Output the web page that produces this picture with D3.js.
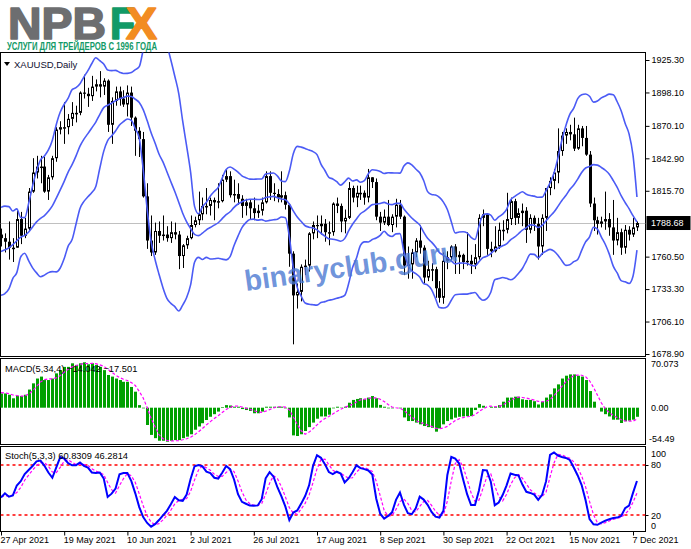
<!DOCTYPE html>
<html><head><meta charset="utf-8">
<script src="https://cdn.jsdelivr.net/npm/d3@7"></script>
<style>body{margin:0;background:#fff}svg{display:block}text{font-family:"Liberation Sans",Arial,sans-serif}</style>
</head><body><svg id="c" width="691" height="549"></svg>
<script>
// ---------- DATA ----------
const dates = ["04-27","04-28","04-29","04-30","05-03","05-04","05-05","05-06","05-07","05-10",
"05-11","05-12","05-13","05-14","05-17","05-18","05-19","05-20","05-21","05-24",
"05-25","05-26","05-27","05-28","05-31","06-01","06-02","06-03","06-04","06-07",
"06-08","06-09","06-10","06-11","06-14","06-15","06-16","06-17","06-18","06-21",
"06-22","06-23","06-24","06-25","06-28","06-29","06-30","07-01","07-02","07-05",
"07-06","07-07","07-08","07-09","07-12","07-13","07-14","07-15","07-16","07-19",
"07-20","07-21","07-22","07-23","07-26","07-27","07-28","07-29","07-30","08-02",
"08-03","08-04","08-05","08-06","08-09","08-10","08-11","08-12","08-13","08-16",
"08-17","08-18","08-19","08-20","08-23","08-24","08-25","08-26","08-27","08-30",
"08-31","09-01","09-02","09-03","09-06","09-07","09-08","09-09","09-10","09-13",
"09-14","09-15","09-16","09-17","09-20","09-21","09-22","09-23","09-24","09-27",
"09-28","09-29","09-30","10-01","10-04","10-05","10-06","10-07","10-08","10-11",
"10-12","10-13","10-14","10-15","10-18","10-19","10-20","10-21","10-22","10-25",
"10-26","10-27","10-28","10-29","11-01","11-02","11-03","11-04","11-05","11-08",
"11-09","11-10","11-11","11-12","11-15","11-16","11-17","11-18","11-19","11-22",
"11-23","11-24","11-25","11-26","11-29","11-30","12-01","12-02","12-03","12-06",
"12-07","12-08"];
const open = [1779,1776,1773,1768,1768,1792,1778,1784,1815,1831,
1836,1836,1815,1827,1843,1867,1869,1869,1876,1881,
1881,1898,1897,1895,1903,1905,1903,1908,1871,1891,
1899,1893,1888,1898,1877,1866,1859,1811,1774,1764,
1782,1778,1779,1776,1781,1779,1761,1770,1776,1787,
1791,1796,1803,1803,1808,1806,1807,1825,1828,1812,
1813,1809,1803,1806,1801,1797,1799,1806,1828,1814,
1813,1810,1812,1804,1763,1728,1731,1752,1753,1780,
1787,1786,1788,1781,1781,1805,1803,1790,1793,1818,
1810,1814,1814,1810,1827,1823,1794,1789,1794,1787,
1794,1804,1794,1753,1754,1764,1774,1768,1743,1750,
1750,1734,1726,1757,1760,1769,1760,1762,1756,1757,
1754,1760,1793,1796,1767,1765,1769,1783,1783,1792,
1807,1793,1797,1799,1783,1793,1788,1769,1793,1818,
1824,1831,1849,1862,1865,1863,1851,1868,1860,1846,
1805,1791,1788,1790,1792,1785,1774,1781,1768,1783,
1779,1785];
const high = [1784,1780,1790,1776,1799,1798,1793,1818,1843,1845,
1845,1844,1829,1845,1869,1874,1890,1880,1890,1887,
1899,1913,1902,1912,1909,1916,1910,1909,1894,1903,
1903,1900,1904,1903,1878,1869,1865,1822,1795,1789,
1790,1795,1786,1790,1789,1782,1771,1778,1795,1794,
1815,1810,1818,1810,1810,1822,1829,1834,1832,1825,
1822,1812,1809,1808,1810,1804,1810,1832,1832,1822,
1817,1832,1815,1805,1765,1738,1754,1758,1781,1790,
1795,1795,1792,1790,1806,1810,1805,1800,1823,1820,
1820,1820,1816,1834,1827,1826,1798,1800,1808,1796,
1809,1808,1795,1769,1767,1776,1787,1770,1757,1755,
1752,1740,1764,1765,1770,1771,1765,1763,1781,1762,
1771,1796,1800,1797,1773,1786,1789,1791,1814,1810,
1809,1801,1805,1802,1796,1795,1793,1796,1818,1827,
1834,1868,1865,1868,1871,1877,1871,1870,1870,1849,
1810,1794,1794,1815,1797,1808,1793,1784,1787,1786,
1793,1790];
const low = [1769,1764,1758,1756,1768,1771,1776,1782,1814,1826,
1822,1814,1808,1825,1840,1863,1855,1863,1870,1873,
1879,1893,1886,1891,1899,1894,1896,1865,1855,1887,
1887,1886,1878,1870,1845,1844,1810,1767,1761,1762,
1772,1774,1773,1772,1775,1750,1751,1767,1775,1785,
1787,1791,1796,1795,1791,1801,1806,1823,1810,1806,
1804,1793,1795,1792,1791,1793,1795,1805,1808,1807,
1806,1806,1800,1752,1687,1717,1723,1745,1748,1775,
1776,1779,1773,1770,1778,1797,1781,1780,1792,1806,
1802,1808,1804,1806,1818,1791,1782,1787,1786,1781,
1785,1792,1745,1742,1742,1760,1763,1738,1740,1740,
1726,1722,1721,1750,1757,1746,1746,1750,1753,1746,
1750,1758,1786,1762,1760,1764,1767,1774,1780,1787,
1787,1788,1786,1772,1780,1782,1758,1762,1782,1812,
1817,1822,1845,1855,1858,1849,1850,1853,1845,1802,
1782,1779,1785,1783,1778,1762,1770,1762,1763,1774,
1777,1782];
const close = [1776,1773,1768,1768,1792,1778,1784,1815,1831,1836,
1836,1815,1827,1843,1867,1869,1869,1876,1881,1881,
1898,1897,1895,1903,1905,1903,1908,1871,1891,1899,
1893,1888,1898,1877,1866,1859,1811,1774,1764,1782,
1778,1779,1776,1781,1779,1761,1770,1776,1787,1791,
1796,1803,1803,1808,1806,1807,1825,1828,1812,1813,
1809,1803,1806,1801,1797,1799,1806,1828,1814,1813,
1810,1812,1804,1763,1728,1731,1752,1753,1780,1787,
1786,1788,1781,1781,1805,1803,1790,1793,1818,1810,
1814,1814,1810,1827,1823,1794,1789,1794,1787,1794,
1804,1794,1753,1754,1764,1774,1768,1743,1750,1750,
1734,1726,1757,1760,1769,1760,1762,1756,1757,1754,
1760,1793,1796,1767,1765,1769,1783,1783,1792,1807,
1793,1797,1799,1783,1793,1788,1769,1793,1818,1824,
1831,1849,1862,1865,1863,1851,1868,1860,1846,1805,
1791,1788,1790,1792,1785,1774,1781,1768,1783,1779,
1785,1788.68];
const bbUpper = [1801.8,1802.8,1802.4,1798.7,1800.5,1793.3,1793.2,1805.1,1819.8,1832.3,
1841.6,1844.9,1849.9,1858.1,1871.3,1881.7,1888.2,1893.3,1900.5,1902.1,
1905.4,1911.2,1916.4,1922.4,1927.2,1924.7,1922.0,1916.9,1916.4,1916.6,
1915.0,1914.0,1914.1,1914.8,1917.2,1919.7,1933.9,1948.7,1955.7,1953.5,
1947.2,1945.3,1937.8,1925.3,1911.7,1897.2,1874.0,1853.1,1831.3,1802.6,
1796.4,1802.3,1806.1,1811.3,1815.1,1818.5,1826.3,1833.6,1835.6,1833.8,
1831.4,1828.2,1826.7,1825.5,1825.4,1825.6,1825.6,1829.7,1830.3,1830.6,
1828.0,1823.9,1823.4,1832.2,1846.8,1852.9,1852.3,1851.2,1849.8,1848.5,
1846.0,1838.1,1832.7,1826.9,1825.6,1823.3,1820.4,1823.1,1826.3,1823.9,
1824.8,1822.9,1824.2,1830.0,1833.3,1832.9,1831.9,1830.2,1830.8,1830.7,
1830.6,1830.5,1836.4,1839.1,1837.4,1833.9,1830.8,1824.3,1815.0,1812.6,
1812.1,1810.1,1806.2,1800.0,1789.8,1780.3,1781.2,1781.3,1780.4,1776.7,
1774.9,1786.0,1795.3,1796.3,1795.3,1791.0,1793.8,1796.1,1800.1,1808.0,
1810.8,1813.1,1814.9,1812.8,1811.7,1811.2,1810.3,1810.4,1815.9,1822.3,
1830.6,1843.4,1858.0,1870.2,1879.7,1884.9,1892.9,1896.2,1896.8,1894.9,
1890.0,1891.0,1893.6,1895.2,1896.7,1896.1,1890.3,1882.8,1872.3,1863.4,
1845.5,1810.5];
const bbMiddle = [1764.9,1766.2,1767.9,1770.5,1773.8,1776.8,1778.3,1781.1,1785.4,1789.6,
1792.6,1794.9,1798.5,1803.0,1809.5,1816.4,1823.6,1831.3,1837.6,1845.0,
1853.1,1859.0,1863.6,1868.4,1873.3,1879.6,1885.4,1887.4,1889.1,1891.2,
1892.9,1893.8,1895.0,1894.7,1892.4,1889.7,1883.7,1874.5,1864.4,1855.8,
1846.5,1839.9,1831.7,1823.3,1815.1,1806.1,1796.9,1789.7,1784.1,1779.2,
1778.1,1780.2,1783.0,1784.9,1786.9,1788.9,1792.4,1795.7,1798.1,1801.8,
1804.6,1806.5,1807.9,1808.6,1808.6,1808.4,1808.6,1810.0,1810.6,1811.0,
1809.9,1808.8,1808.2,1804.6,1798.9,1793.7,1789.9,1786.4,1785.2,1784.4,
1782.9,1780.1,1777.7,1775.4,1775.1,1774.4,1773.4,1775.6,1782.0,1787.6,
1792.1,1796.4,1798.6,1801.4,1804.1,1804.5,1805.1,1806.0,1804.7,1804.1,
1805.1,1805.1,1800.5,1796.5,1792.9,1790.1,1787.1,1781.1,1775.9,1772.7,
1768.8,1763.9,1761.8,1759.4,1756.9,1754.4,1755.1,1755.2,1754.7,1753.3,
1752.7,1756.3,1759.6,1760.8,1763.0,1766.1,1767.9,1769.6,1771.2,1774.6,
1776.8,1779.7,1782.7,1784.8,1787.1,1786.8,1784.9,1786.7,1790.5,1794.4,
1797.9,1802.6,1807.6,1811.7,1816.7,1820.6,1825.5,1831.0,1834.8,1836.0,
1837.6,1837.2,1835.2,1832.9,1829.6,1824.3,1818.5,1811.6,1805.9,1800.7,
1794.8,1789.5];
const bbLower = [1728.1,1729.6,1733.5,1742.3,1747.1,1760.3,1763.3,1757.1,1751.1,1746.9,
1743.7,1745.0,1747.1,1747.9,1747.7,1751.0,1758.9,1769.3,1774.8,1787.9,
1800.9,1806.8,1810.7,1814.3,1819.3,1834.4,1848.7,1857.8,1861.7,1865.8,
1870.8,1873.6,1875.9,1874.6,1867.7,1859.8,1833.6,1800.3,1773.2,1758.1,
1745.8,1734.5,1725.6,1721.3,1718.6,1714.9,1719.9,1726.3,1736.8,1755.8,
1759.9,1758.1,1759.9,1758.5,1758.7,1759.2,1758.4,1757.8,1760.5,1769.8,
1777.7,1784.8,1789.0,1791.6,1791.9,1791.1,1791.5,1790.3,1790.9,1791.4,
1791.9,1793.7,1793.0,1777.1,1750.9,1734.6,1727.4,1721.6,1720.6,1720.2,
1719.9,1722.0,1722.8,1724.0,1724.5,1725.6,1726.5,1728.0,1737.7,1751.3,
1759.3,1770.0,1772.9,1772.8,1774.8,1776.1,1778.3,1781.8,1778.6,1777.4,
1779.6,1779.8,1764.6,1753.9,1748.5,1746.2,1743.4,1737.9,1736.7,1732.9,
1725.4,1717.8,1717.4,1718.7,1723.9,1728.6,1729.0,1729.1,1729.1,1729.9,
1730.5,1726.6,1723.9,1725.3,1730.7,1741.1,1742.1,1743.0,1742.3,1741.1,
1742.8,1746.4,1750.6,1756.8,1762.6,1762.4,1759.5,1763.1,1765.1,1766.6,
1765.1,1761.7,1757.1,1753.2,1753.7,1756.3,1758.1,1765.8,1772.8,1777.1,
1785.1,1783.5,1776.9,1770.7,1762.6,1752.5,1746.8,1740.4,1739.4,1738.0,
1744.1,1766.0];
const macdMain = [22,22,20,14.5,18.5,18,20,28,37.6,45,
48,42.7,42.7,45,53,58,63,63,68.5,66,
68.5,70.073,67,68.5,66,63,58,50.5,48,45,
42.7,40,40,32,24.7,4,-1,-26.7,-42,-47,
-51,-51,-52.5,-51,-50,-50,-47,-44.7,-41,-34,
-29,-24,-19,-14,-10,-6,1,4,3.4,1.5,
1.5,-2.1,-3.6,-5,-8.6,-8.6,-6,1.5,1.5,1.5,
1.5,1.5,-1,-15,-42.7,-43.7,-41,-36,-30,-23,
-17,-13.5,-13.5,-10.8,-1,1.5,0.5,1.5,7.7,12,
13.5,14.6,13,15.6,18,14.6,4.3,1.5,-1,-1,
0,-1,-15,-20.6,-20.6,-23,-25.7,-28.3,-30,-31,
-37,-32,-25.7,-20.6,-18,-15.4,-14,-13.5,-13,-13,
-3.6,5.6,3,0,1.5,1.5,4,9.3,15.6,15.6,
17,17,13,12,12,10,5,9.3,15.6,20.6,
29.8,36,45,49.4,51.4,51.4,49.4,48,42.7,25.7,
9.3,0,-6,-10,-13.5,-18.5,-18.5,-23.6,-21,-20,
-18.5,-14.042];
const macdSignal = [23.3,22.8,21.8,19.6,18.8,17.8,17.8,21.1,25.9,32.7,
39.7,43.3,44.6,44.6,45.9,49.7,54.8,59.3,63.1,65.1,
66.5,68.3,67.9,68.5,67.9,66.1,63.9,59.4,54.9,50.4,
46.6,43.9,41.9,38.7,34.2,25.2,14.9,0.3,-16.4,-29.2,
-41.7,-47.8,-50.4,-51.4,-51.1,-50.9,-49.5,-47.9,-45.7,-41.7,
-37.2,-32,-26.5,-21.5,-16.8,-12.3,-7.3,-2.8,0.6,2.5,
2.6,1.1,-0.7,-2.3,-4.8,-6.5,-7.1,-5.4,-2.9,-0.4,
1.5,1.5,0.9,-3.3,-14.3,-25.6,-35.6,-40.9,-37.7,-32.5,
-26.5,-20.9,-16.8,-13.7,-9.7,-6,-2.5,0.6,2.8,5.4,
8.7,12,13.3,14.2,15.3,15.3,13.1,9.6,4.9,1,
-0.1,-0.8,-4.3,-9.2,-14.3,-19.8,-22.5,-24.4,-26.8,-28.8,
-31.6,-32.5,-31.4,-28.8,-24.1,-19.9,-17,-15.2,-14,-13.4,
-10.8,-6,-2,1.3,2.5,1.5,1.8,4.1,7.6,11.1,
14.4,16.3,15.7,14.8,13.5,11.8,9.8,9.1,10,12.6,
18.8,25.5,32.9,40,45.5,49.3,50.4,50.1,47.9,41.5,
31.4,19.4,7.3,-1.7,-7.4,-12,-15.1,-18.5,-20.4,-20.8,
-20.8,-17.501];
const stochMain = [41,46,42,43.5,55.4,60.5,69.2,74,78.8,84.4,
85.3,79,71,64.7,77,89.4,87.6,82.2,79.6,79.8,
83,79,76.8,71,70.4,71,64,41.6,45.6,51.7,
68.8,70.3,70.3,60.6,46,29.5,17.6,10.5,6,9,
14,19.6,25,33,41.6,37.6,37,44.6,63.3,78.5,
80,78.4,72,70.4,64.7,63.7,70.6,78.8,75,62.6,
45,35.8,33.5,31.3,31,31.5,39,64,71.4,66,
53,42.4,30,14,23,25.4,33.7,42.8,55.6,79,
91.7,88.6,81,71.5,69,72,69.8,59,63.8,71.3,
79.6,76.2,75,73.4,68.5,39.5,21.6,15.7,18.9,23.2,
38.2,47,32.4,22.2,21,28,42,38.5,32.2,23.7,
18,17,25,68,89.6,87.7,81.7,62.7,45,32,
32,49.4,74,73.6,60,31.8,35,43.9,55.6,69.8,
68.2,67.5,56.5,47.8,46.5,44.5,38.2,44.2,60.6,92,
95,91.3,89.6,88.4,86,77,67.4,56,37.6,15,
8.8,8.3,10.8,13.2,15,16.3,16.9,18.8,28.1,31.2,
46.6,60.8309];
const stochSignal = [42,43,43,43.8,47,53.1,61.7,67.9,74,79.1,
82.8,82.9,78.4,71.6,70.9,77,84.7,86.4,83.1,80.5,
80.8,80.6,79.6,75.6,72.7,70.8,68.5,58.9,50.4,46.3,
55.4,63.6,69.8,67.1,59,45.4,31,19.2,11.4,8.5,
9.7,14.2,19.5,25.9,33.2,37.4,38.7,39.7,48.3,62.1,
73.9,79,76.8,73.6,69,66.3,66.3,71,74.8,72.1,
60.9,47.8,38.1,33.5,31.9,31.3,33.8,44.8,58.1,67.1,
63.5,53.8,41.8,28.8,22.3,20.8,27.4,34,44,59.1,
75.4,86.4,87.1,80.4,73.8,70.8,70.3,66.9,64.2,64.7,
71.6,75.7,76.9,74.9,72.3,60.5,43.2,25.6,18.7,19.3,
26.8,36.1,39.2,33.9,25.2,23.7,30.3,36.2,37.6,31.5,
24.6,19.6,20,36.7,60.9,81.8,86.3,77.4,63.1,46.6,
36.3,37.8,51.8,65.7,69.2,55.1,42.3,36.9,44.8,56.4,
64.5,68.5,64.1,57.3,50.3,46.3,43.1,42.3,47.7,65.6,
82.5,92.8,92,89.8,88,83.8,76.8,66.8,53.7,36.2,
20.5,10.7,9.3,10.8,13,14.8,16.1,17.3,21.3,26,
35.3,46.2814];
const priceTicks = [1925.30,1898.10,1870.10,1842.90,1815.70,1760.50,1733.30,1706.10,1678.90];
const lastPrice = 1788.68;
const dateTickDates = ["04-27","05-19","06-10","07-02","07-26","08-17","09-08","09-30","10-22","11-15","12-07"];
const dateTickLabels = ["27 Apr 2021","19 May 2021","10 Jun 2021","2 Jul 2021","26 Jul 2021","17 Aug 2021","8 Sep 2021","30 Sep 2021","22 Oct 2021","15 Nov 2021","7 Dec 2021"];
const macdTicks = [70.073, 0, -54.49];
const macdTickLabels = ["70.073","0.00","-54.49"];
const stochLevels = [80, 20];
const stochTicks = [100, 80, 20, 0];

// ---------- DRAW ----------
const svg = d3.select("#c");
const L = 0.5, R = 645.5;
const P = {main:[52.5,356.5], macd:[358.5,444.5], stoch:[446.5,531.5]};
const x = d3.scalePoint().domain(dates).range([1, 636.95]);
const yP = d3.scaleLinear().domain([1678.9, 1925.3]).range([354, 60]);
const yM = d3.scaleLinear().domain([-54.49, 70.073]).range([443, 362.3]);
const yS = d3.scaleLinear().domain([0, 100]).range([531.7, 448.3]);
const cx = d => Math.round(x(d)) + 0.5;

const defs = svg.append("defs");
Object.entries(P).forEach(([k,[t,b]]) => {
  defs.append("clipPath").attr("id","clip-"+k).append("rect")
    .attr("x",L).attr("y",t).attr("width",R-L).attr("height",b-t);
});

// Logo (one text, coloured parts)
const logo = svg.append("text").attr("y",38.5).attr("font-size",44).attr("font-weight",700)
  .attr("stroke-width",1.6).attr("stroke-linejoin","round");
logo.append("tspan").attr("x",8).attr("fill","#6d6e70").attr("stroke","#6d6e70")
  .attr("textLength",98).attr("lengthAdjust","spacingAndGlyphs").text("NPB");
logo.append("tspan").attr("x",110).attr("fill","#129a67").attr("stroke","#129a67")
  .attr("textLength",25).attr("lengthAdjust","spacingAndGlyphs").text("F");
logo.append("tspan").attr("x",126).attr("fill","#f28c22").attr("stroke","#f28c22")
  .attr("textLength",31).attr("lengthAdjust","spacingAndGlyphs").text("X");
svg.append("text").attr("x",7).attr("y",50).attr("font-size",10).attr("font-weight",700)
  .attr("fill","#129a67").attr("textLength",150).attr("lengthAdjust","spacingAndGlyphs")
  .text("УСЛУГИ ДЛЯ ТРЕЙДЕРОВ С 1996 ГОДА");

// Panel frames
Object.values(P).forEach(([t,b]) => {
  svg.append("rect").attr("x",L).attr("y",t).attr("width",R-L).attr("height",b-t)
    .attr("fill","none").attr("stroke","#000").attr("stroke-width",1);
});

// ---- Main panel
const gMain = svg.append("g").attr("clip-path","url(#clip-main)");
gMain.append("line").attr("x1",L).attr("x2",R)
  .attr("y1",Math.round(yP(lastPrice))+0.5).attr("y2",Math.round(yP(lastPrice))+0.5)
  .attr("stroke","#c0c0c0");

// Watermark
svg.append("text").attr("transform","translate(246,291) rotate(-8)")
  .attr("font-size",29).attr("font-weight",700).attr("fill","#4a78d2").attr("fill-opacity",0.8)
  .attr("textLength",215).attr("lengthAdjust","spacingAndGlyphs").text("binaryclub.guru");

const idx = d3.range(dates.length);
const cg = gMain.append("g");
cg.selectAll("line.w").data(idx).join("line").attr("class","w")
  .attr("x1",i=>cx(dates[i])).attr("x2",i=>cx(dates[i]))
  .attr("y1",i=>yP(high[i])).attr("y2",i=>yP(low[i]))
  .attr("stroke","#000").attr("stroke-width",1);
cg.selectAll("rect.b").data(idx).join("rect").attr("class","b")
  .each(function(i){
    const yo=yP(open[i]), yc=yP(close[i]);
    const top=Math.min(yo,yc), h=Math.max(1,Math.abs(yo-yc));
    const s=d3.select(this), c=cx(dates[i]);
    if (close[i] >= open[i]) {
      s.attr("x",c-1).attr("y",top+0.5).attr("width",2).attr("height",Math.max(0.5,h-1))
       .attr("fill","#fff").attr("stroke","#000").attr("stroke-width",1);
    } else {
      s.attr("x",c-1.5).attr("y",top).attr("width",3).attr("height",h).attr("fill","#000");
    }
  });

const bandLine = arr => d3.line().x((d,i)=>x(dates[i])).y(d=>yP(d)).curve(d3.curveMonotoneX)(arr);
[bbUpper,bbMiddle,bbLower].forEach(arr => {
  gMain.append("path").attr("d",bandLine(arr)).attr("fill","none")
    .attr("stroke","#4b5bf5").attr("stroke-width",1.6);
});

// title
svg.append("path").attr("d","M4,62 L10,62 L7,66 Z").attr("fill","#000");
svg.append("text").attr("x",14).attr("y",67.5).attr("font-size",9.5).attr("fill","#101030").text("XAUUSD,Daily");

// price axis
const pAxis = svg.append("g").attr("transform",`translate(${R},0)`)
  .call(d3.axisRight(yP).tickValues(priceTicks).tickFormat(d3.format(".2f")).tickSize(4).tickPadding(2));
pAxis.select(".domain").remove();
pAxis.selectAll("text").attr("font-size",9).attr("font-family","Liberation Sans, Arial, sans-serif").attr("fill","#000");
pAxis.selectAll("line").attr("stroke","#000");
// current price tag
const yl = yP(lastPrice);
svg.append("rect").attr("x",646.5).attr("y",yl-7).attr("width",44).attr("height",14).attr("fill","#000");
svg.append("text").attr("x",651).attr("y",yl+3.3).attr("font-size",9).attr("fill","#fff").text(d3.format(".2f")(lastPrice));

// ---- MACD panel
const gMacd = svg.append("g").attr("clip-path","url(#clip-macd)");
gMacd.selectAll("rect").data(idx).join("rect")
  .attr("x",i=>cx(dates[i])-1.5).attr("width",3)
  .attr("y",i=>Math.min(yM(0),yM(macdMain[i])))
  .attr("height",i=>Math.abs(yM(macdMain[i])-yM(0)))
  .attr("fill","#00a000");
gMacd.append("path").attr("d",d3.line().x((d,i)=>x(dates[i])).y(d=>yM(d))(macdSignal))
  .attr("fill","none").attr("stroke","#ff00ff").attr("stroke-width",1.2).attr("stroke-dasharray","3,2");
svg.append("text").attr("x",5).attr("y",371.5).attr("font-size",9.3).attr("fill","#000")
  .text(`MACD(5,34,4) ${d3.format(".3f")(macdMain[macdMain.length-1])} ${d3.format(".3f")(macdSignal[macdSignal.length-1])}`);
const macdOff = [4.5, 3.2, -1.5];
svg.selectAll("text.ma").data(macdTicks).join("text").attr("class","ma")
  .attr("x",(d,i)=> i===2 ? 649 : 651).attr("y",(d,i)=>yM(d)+macdOff[i]).attr("font-size",9).attr("fill","#000")
  .text((d,i)=>macdTickLabels[i]);

// ---- Stoch panel
const gSt = svg.append("g").attr("clip-path","url(#clip-stoch)");
gSt.selectAll("line.lv").data(stochLevels).join("line").attr("class","lv")
  .attr("x1",L).attr("x2",R).attr("y1",d=>yS(d)).attr("y2",d=>yS(d))
  .style("stroke","#ff0000").style("stroke-width","1.3px").style("stroke-dasharray","3,3");
gSt.append("path").attr("d",d3.line().x((d,i)=>x(dates[i])).y(d=>yS(d))(stochSignal))
  .attr("fill","none").attr("stroke","#ff00ff").attr("stroke-width",1.2).attr("stroke-dasharray","3,2");
gSt.append("path").attr("d",d3.line().x((d,i)=>x(dates[i])).y(d=>yS(d))(stochMain))
  .attr("fill","none").attr("stroke","#0000ff").attr("stroke-width",2);
svg.append("text").attr("x",5).attr("y",459).attr("font-size",9.3).attr("fill","#000")
  .text(`Stoch(5,3,3) ${d3.format(".4f")(stochMain[stochMain.length-1])} ${d3.format(".4f")(stochSignal[stochSignal.length-1])}`);
const stOff = [9, 3.5, 3.5, -3];
svg.selectAll("text.st").data(stochTicks).join("text").attr("class","st")
  .attr("x",651).attr("y",(d,i)=>yS(d)+stOff[i]).attr("font-size",9).attr("fill","#000")
  .text(d=>d);
svg.selectAll("line.stt").data(stochLevels).join("line").attr("class","stt")
  .attr("x1",R).attr("x2",R+3).attr("y1",d=>Math.round(yS(d))+0.5).attr("y2",d=>Math.round(yS(d))+0.5)
  .attr("stroke","#000");

// ---- Date axis
const dAxis = svg.append("g").attr("transform",`translate(0,${P.stoch[1]})`)
  .call(d3.axisBottom(x).tickValues(dateTickDates).tickSize(4).tickFormat((d,i)=>dateTickLabels[i]));
dAxis.select(".domain").remove();
dAxis.selectAll("line").attr("stroke","#000");
dAxis.selectAll("text").attr("text-anchor","start").attr("x",-1).attr("y",5)
  .attr("font-size",9).attr("font-family","Liberation Sans, Arial, sans-serif").attr("fill","#000");
</script></body></html>
